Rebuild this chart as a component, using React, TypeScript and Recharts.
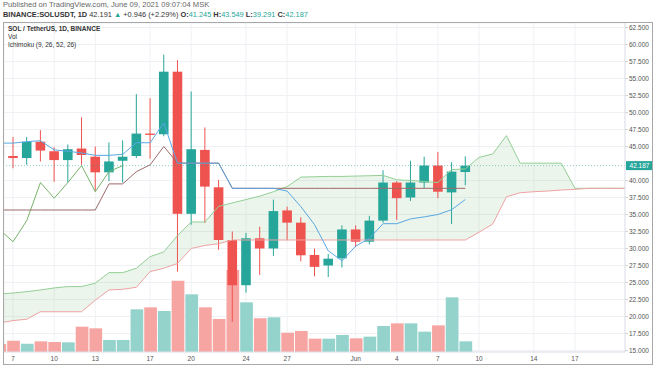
import React from "react";
import { ComposedChart, Bar, Line, Area, XAxis, YAxis, CartesianGrid, ReferenceLine, Cell } from "recharts";

// day index: 0 = May 7, 2021. Series below start at May 6 (index -1).
const firstDay = -1;

// candles, May 6 .. Jun 9
const opens = [45.2, 43.6, 43.3, 45.7, 44.3, 43.0, 44.7, 43.5, 41.2, 42.9, 43.6, 46.9, 46.8, 56.0, 35.1, 44.5, 39.0, 31.25, 24.6, 31.5, 30.0, 35.6, 33.8, 29.05, 27.5, 28.55, 32.8, 31.0, 34.1, 39.7, 37.5, 39.7, 42.2, 38.25, 41.245];
const highs = [46.5, 46.4, 46.4, 47.4, 44.9, 45.3, 49.3, 45.0, 45.6, 45.9, 52.7, 52.1, 58.5, 57.7, 53.1, 47.8, 40.1, 32.5, 32.3, 33.2, 37.2, 36.15, 34.6, 30.0, 29.2, 33.4, 33.4, 34.8, 41.5, 39.9, 42.9, 43.5, 44.2, 42.7, 43.549];
const lows = [42.6, 41.8, 42.3, 42.8, 39.8, 39.7, 42.3, 38.4, 39.9, 39.7, 43.3, 43.2, 46.5, 26.6, 33.5, 33.75, 29.8, 19.2, 23.5, 26.1, 28.9, 31.2, 28.1, 25.9, 25.8, 27.2, 30.2, 30.6, 33.8, 34.2, 37.0, 38.85, 37.4, 33.6, 39.291];
const closes = [43.5, 43.3, 45.7, 44.4, 43.0, 44.6, 43.75, 41.2, 42.8, 43.5, 46.9, 46.7, 56.0, 35.1, 44.6, 39.1, 31.25, 24.6, 31.5, 30.0, 35.5, 33.8, 29.0, 27.3, 28.5, 32.8, 31.0, 34.1, 39.7, 37.4, 39.7, 42.2, 38.35, 41.3, 42.187];
// volume (M SOL), May 6 .. Jun 9
const volumes = [2.4, 3.4, 2.5, 3.2, 3.0, 2.9, 7.6, 7.1, 3.6, 3.6, 12.8, 13.4, 12.3, 21.4, 17.3, 13.4, 9.9, 24.6, 14.9, 10.1, 10.4, 5.8, 6.3, 4.0, 4.0, 5.1, 4.1, 4.6, 7.8, 8.6, 8.6, 6.1, 8.0, 16.4, 3.2];

// Ichimoku (9, 26, 52, 26)
const conversion = [45.5, 45.5, 45.7, 45.85, 44.5, 44.3, 44.05, 43.7, 43.7, 43.85, 45.55, 45.55, 48.45, 42.55, 42.55, 42.55, 42.55, 38.85, 38.85, 38.85, 38.85, 38.45, 36.15, 33.5, 29.65, 28.2, 30.35, 31.5, 33.65, 33.65, 34.35, 34.65, 35.0, 35.7, 37.2];
const baseLine = [35.66, 35.66, 35.66, 35.66, 35.66, 35.66, 35.66, 35.66, 39.5, 39.5, 41.3, 42.3, 45.0, 42.55, 42.55, 42.55, 42.55, 38.85, 38.85, 38.85, 38.85, 38.85, 38.85, 38.85, 38.85, 38.85, 38.85, 38.85, 38.85, 38.85, 38.85, 38.85, 38.85, 38.85, 38.85];
// lagging span, May 6 .. May 15
const lagging = [32.8, 31.0, 34.1, 39.7, 37.4, 39.7, 42.2, 38.35, 41.3, 42.187];
// leading spans, May 6 .. Jun 21
const leadA = [23.3, 23.45, 23.65, 23.9, 24.2, 24.4, 24.4, 24.9, 26.45, 26.45, 27.1, 28.8, 29.5, 31.9, 33.9, 33.9, 36.2, 36.7, 37.2, 37.7, 38.35, 39.1, 40.5, 40.55, 40.6, 40.6, 40.65, 40.7, 40.75, 40.1, 40.0, 39.85, 39.7, 41.6, 41.7, 43.4, 43.9, 46.6, 42.55, 42.55, 42.55, 42.55, 38.85, 38.85, 38.85, 38.85, 38.85];
const leadB = [19.05, 19.4, 19.6, 20.7, 20.7, 20.7, 20.7, 22.4, 23.9, 24.0, 24.3, 26.6, 27.1, 27.8, 30.0, 30.45, 30.7, 31.25, 31.25, 31.25, 31.25, 31.25, 31.25, 31.25, 31.25, 31.25, 31.25, 31.25, 31.25, 31.25, 31.25, 31.25, 31.25, 31.25, 31.25, 32.4, 33.6, 37.6, 38.2, 38.35, 38.45, 38.6, 38.7, 38.85, 38.85, 38.85, 38.85];

const tickDays = [0, 3, 6, 10, 13, 17, 20, 25, 28, 31, 34, 38, 41];
const tickLabels = ["7", "10", "13", "17", "20", "24", "27", "Jun", "4", "7", "10", "14", "17"];
// 42.500 is covered by the last-price tag in the reference
const priceTicks = [15, 17.5, 20, 22.5, 25, 27.5, 30, 32.5, 35, 37.5, 40, 45, 47.5, 50, 52.5, 55, 57.5, 60, 62.5];
const lastPrice = 42.187;

const UP = "#26a69a";
const DOWN = "#ef5350";

const rows = leadA.map((_, i) => {
  const has = i < opens.length;
  return {
    d: firstDay + i,
    open: has ? opens[i] : null,
    high: has ? highs[i] : null,
    low: has ? lows[i] : null,
    close: has ? closes[i] : null,
    vol: has ? volumes[i] : null,
    conv: has ? conversion[i] : null,
    base: has ? baseLine[i] : null,
    lag: i < lagging.length ? lagging[i] : null,
    spanA: leadA[i],
    spanB: leadB[i],
  };
});

const Candle = (props: any) => {
  const { x, y, width, height, payload } = props;
  if (payload.open == null || !height) return null;
  const { open, close, high, low } = payload;
  const color = close >= open ? UP : DOWN;
  const py = (v: number) => y + ((high - v) / (high - low)) * height;
  const top = py(Math.max(open, close));
  const bot = py(Math.min(open, close));
  const cx = x + width / 2;
  return (
    <g>
      <line x1={cx} x2={cx} y1={y} y2={y + height} stroke={color} strokeWidth={1} />
      <rect x={x} y={top} width={width} height={Math.max(1, bot - top)} fill={color} />
    </g>
  );
};

const PriceTag = (props: any) => {
  const vb = props.viewBox;
  const x = vb.x + vb.width;
  return (
    <g>
      <rect x={x + 1} y={vb.y - 4.5} width={27} height={9} fill={UP} />
      <text x={x + 14.5} y={vb.y + 2.3} fontSize={6.5} fill="#fff" textAnchor="middle">
        {lastPrice.toFixed(3)}
      </text>
    </g>
  );
};

const font = "'Liberation Sans', Arial, sans-serif";

export default function App() {
  return (
    <div style={{ position: "absolute", left: 0, top: 0, width: 654, height: 366, background: "#fff", fontFamily: font }}>
      <div style={{ position: "absolute", left: 3, top: 0, fontSize: 7.6, color: "#666", whiteSpace: "nowrap" }}>
        Published on TradingView.com, June 09, 2021 09:07:04 MSK
      </div>
      <div style={{ position: "absolute", left: 3, top: 10, fontSize: 7.4, color: "#333", whiteSpace: "nowrap" }}>
        <b>BINANCE:SOLUSDT, 1D</b> 42.191 <span style={{ color: UP }}>▲</span> +0.946 (+2.29%){" "}
        <b>O:</b><span style={{ color: UP }}>41.245</span> <b>H:</b><span style={{ color: UP }}>43.549</span>{" "}
        <b>L:</b><span style={{ color: UP }}>39.291</span> <b>C:</b><span style={{ color: UP }}>42.187</span>
      </div>
      <ComposedChart width={654} height={366} data={rows} margin={{ top: 23, right: 0, left: 4, bottom: 0 }}>
        <CartesianGrid xAxisId="x" yAxisId="p" stroke="#eff1f4" />
        <XAxis
          xAxisId="x"
          type="number"
          dataKey="d"
          domain={[-0.66, 44.65]}
          allowDataOverflow
          ticks={tickDays}
          interval={0}
          tickFormatter={(v: number) => tickLabels[tickDays.indexOf(v)]}
          height={14}
          tick={{ fontSize: 6.5, fill: "#555" }}
          tickLine={false}
          tickSize={2}
          axisLine={{ stroke: "#e0e3eb" }}
        />
        <XAxis xAxisId="xv" type="number" dataKey="d" domain={[-0.66, 44.65]} allowDataOverflow hide />
        <YAxis
          yAxisId="p"
          orientation="right"
          domain={[14.78, 63.16]}
          allowDataOverflow
          ticks={priceTicks}
          interval={0}
          tickFormatter={(v: number) => v.toFixed(3)}
          width={29}
          tick={{ fontSize: 6.5, fill: "#555" }}
          tickSize={3}
          tickMargin={1}
          tickLine={{ stroke: "#d6d6d6" }}
          axisLine={{ stroke: "#e0e3eb" }}
        />
        <YAxis yAxisId="v" domain={[0, 98.7]} allowDataOverflow hide />
        <Bar xAxisId="xv" yAxisId="v" dataKey="vol" barSize={12.7} isAnimationActive={false}>
          {rows.map((r, i) => (
            <Cell key={i} fill={r.close != null && r.close >= (r.open ?? 0) ? "#93d3cc" : "#f6a5a3"} />
          ))}
        </Bar>
        <Area
          xAxisId="x"
          yAxisId="p"
          dataKey={(r: any) => [r.spanB, r.spanA]}
          stroke="none"
          fill="#43a047"
          fillOpacity={0.1}
          isAnimationActive={false}
        />
        <Line xAxisId="x" yAxisId="p" dataKey="spanA" stroke="#93cf95" strokeWidth={1} dot={false} isAnimationActive={false} />
        <Line xAxisId="x" yAxisId="p" dataKey="spanB" stroke="#efa3a3" strokeWidth={1} dot={false} isAnimationActive={false} />
        <Line xAxisId="x" yAxisId="p" dataKey="lag" stroke="#78b46a" strokeWidth={1} dot={false} isAnimationActive={false} />
        <Line xAxisId="x" yAxisId="p" dataKey="base" stroke="#9c6a6a" strokeWidth={1} dot={false} isAnimationActive={false} />
        <Line xAxisId="x" yAxisId="p" dataKey="conv" stroke="#5aa8e4" strokeWidth={1} dot={false} isAnimationActive={false} />
        <ReferenceLine xAxisId="x" yAxisId="p" y={lastPrice} stroke={UP} strokeOpacity={0.5} strokeDasharray="1 2" label={<PriceTag />} />
        <Bar
          xAxisId="x"
          yAxisId="p"
          dataKey={(r: any) => (r.open == null ? null : [r.low, r.high])}
          barSize={9.6}
          shape={<Candle />}
          isAnimationActive={false}
        />
      </ComposedChart>
      <div style={{ position: "absolute", left: 8, top: 25, fontSize: 6.5, color: "#333", lineHeight: "8.2px", whiteSpace: "nowrap" }}>
        <div style={{ fontWeight: "bold" }}>SOL / TetherUS, 1D, BINANCE</div>
        <div>Vol</div>
        <div>Ichimoku (9, 26, 52, 26)</div>
      </div>
      <div style={{ position: "absolute", left: 3, top: 22, width: 648, height: 341, border: "1px solid #a8a8a8", pointerEvents: "none" }} />
    </div>
  );
}
